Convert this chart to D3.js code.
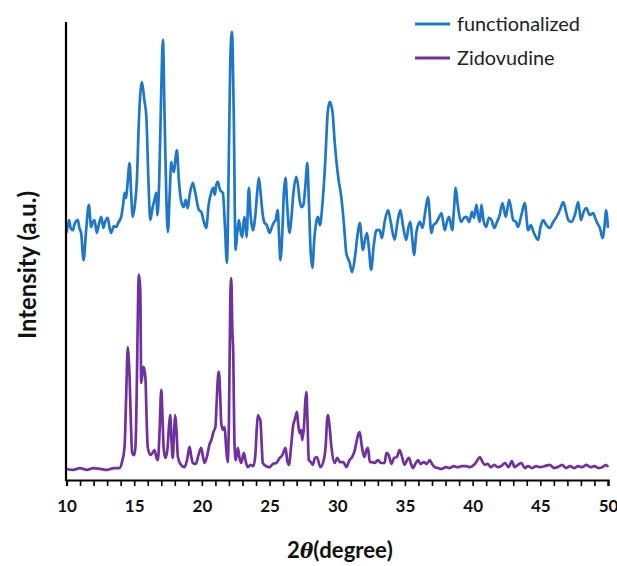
<!DOCTYPE html>
<html><head><meta charset="utf-8">
<script src="https://cdn.jsdelivr.net/npm/d3@7"></script>
<style>body{margin:0;background:#fff}svg{display:block}text{font-family:Lato,"Open Sans",sans-serif}</style>
</head><body><svg id="c" width="617" height="566"></svg>
<script>
// 2θ positions and intensities (a.u.) for the functionalized sample
const funcTheta = [10.0,10.1,10.2,10.3,10.47,10.6,10.84,10.95,11.08,11.26,11.45,11.65,11.82,11.95,12.07,12.24,12.4,12.57,12.72,12.85,13.05,13.18,13.3,13.5,13.67,13.85,14.04,14.18,14.29,14.4,14.5,14.66,14.78,14.9,15.05,15.2,15.35,15.57,15.75,15.9,16.05,16.19,16.35,16.5,16.63,16.72,16.85,17.0,17.12,17.25,17.38,17.49,17.62,17.74,17.86,17.95,18.05,18.15,18.3,18.45,18.65,18.8,18.95,19.1,19.33,19.5,19.78,19.95,20.15,20.32,20.5,20.7,20.86,20.95,21.06,21.18,21.35,21.55,21.7,21.85,22.0,22.1,22.22,22.35,22.49,22.62,22.73,22.85,22.98,23.08,23.16,23.3,23.47,23.6,23.77,23.95,24.1,24.21,24.35,24.5,24.63,24.8,25.0,25.15,25.3,25.45,25.6,25.7,25.8,25.95,26.05,26.18,26.3,26.48,26.6,26.75,26.97,27.1,27.22,27.35,27.5,27.65,27.79,27.9,28.03,28.16,28.3,28.45,28.58,28.72,28.9,29.1,29.3,29.44,29.55,29.66,29.8,29.93,30.1,30.3,30.5,30.67,30.9,31.1,31.3,31.5,31.66,31.9,32.05,32.2,32.35,32.5,32.7,32.9,33.13,33.3,33.5,33.75,33.95,34.24,34.45,34.66,34.85,35.1,35.25,35.4,35.55,35.67,35.85,36.1,36.3,36.5,36.7,36.96,37.1,37.3,37.5,37.7,37.94,38.1,38.26,38.5,38.62,38.75,38.9,39.17,39.35,39.54,39.75,39.95,40.1,40.28,40.4,40.53,40.65,40.8,41.0,41.2,41.4,41.6,41.8,42.0,42.2,42.45,42.7,43.0,43.2,43.35,43.6,43.85,44.1,44.3,44.5,44.84,45.0,45.2,45.45,45.7,45.95,46.2,46.45,46.7,46.9,47.07,47.3,47.55,47.8,48.0,48.2,48.4,48.65,48.9,49.05,49.2,49.4,49.6,49.75,49.85,50.0];
const funcIntensity = [53.7,55.4,56.5,54.8,54.3,55.7,56.5,54.8,53.7,47.8,54.3,59.8,55.0,56.1,56.5,53.7,55.7,57.2,54.8,56.1,57.0,54.8,53.7,55.2,55.0,56.1,57.2,59.8,62.4,61.3,64.1,68.9,62.0,57.2,59.8,65.2,78.3,86.5,82.6,78.9,65.2,56.5,59.1,60.9,62.4,57.6,65.2,84.8,95.7,78.3,60.9,53.9,62.0,69.1,67.4,67.0,70.0,71.7,65.2,60.9,59.3,60.9,59.1,62.0,64.6,62.6,58.7,58.3,56.1,54.8,59.8,62.6,63.5,62.0,64.1,64.8,63.0,62.4,55.4,47.2,71.7,91.3,97.4,80.4,50.0,53.9,56.5,54.3,52.8,56.1,57.2,52.8,63.5,57.6,54.3,57.6,63.0,65.7,62.0,57.6,55.9,55.4,53.7,54.8,55.9,56.5,58.7,53.3,47.8,54.3,62.0,65.7,59.8,53.7,56.5,62.0,65.9,64.1,60.9,59.3,59.8,64.1,68.9,60.9,50.0,46.1,52.2,56.1,57.2,55.4,59.8,68.5,80.0,82.2,81.5,79.8,73.9,69.6,65.2,61.5,55.4,49.3,47.4,45.2,48.3,53.3,55.9,50.0,52.2,53.7,50.0,45.7,51.1,54.3,54.3,52.6,56.1,58.7,56.1,52.2,56.1,58.7,55.4,52.2,54.8,56.1,52.2,48.9,53.9,56.1,54.8,58.3,61.5,53.7,55.4,55.9,57.0,58.0,54.3,56.1,57.2,54.3,58.7,63.5,59.8,56.1,57.0,57.2,56.1,58.3,57.0,59.8,57.6,56.1,59.8,56.5,55.0,57.0,56.5,54.8,56.1,57.6,60.2,57.2,60.9,56.5,56.1,55.0,57.6,60.2,54.3,55.4,53.9,52.2,54.8,56.5,55.4,54.8,56.1,57.2,58.7,60.4,58.3,56.5,56.1,57.6,60.4,56.5,58.3,59.1,57.6,58.0,57.0,55.9,54.8,52.6,55.4,58.7,54.8];

// 2θ positions and intensities (a.u.) for Zidovudine
const zidoTheta = [10.0,10.5,11.0,11.5,12.0,12.5,13.0,13.5,13.9,14.1,14.29,14.4,14.53,14.6,14.66,14.75,14.85,15.0,15.1,15.2,15.3,15.35,15.45,15.52,15.62,15.69,15.78,15.84,15.92,16.0,16.2,16.4,16.5,16.65,16.75,16.88,17.0,17.1,17.17,17.3,17.45,17.58,17.66,17.75,17.85,17.95,18.03,18.12,18.23,18.45,18.72,18.9,19.09,19.2,19.33,19.55,19.75,19.95,20.1,20.2,20.4,20.55,20.7,20.85,21.0,21.1,21.2,21.26,21.35,21.43,21.55,21.68,21.78,21.9,22.0,22.1,22.17,22.25,22.32,22.4,22.5,22.66,22.78,22.9,23.1,23.25,23.4,23.6,23.8,23.95,24.05,24.14,24.24,24.32,24.42,24.5,24.75,25.0,25.25,25.5,25.75,25.95,26.18,26.3,26.43,26.6,26.75,26.85,26.95,27.02,27.12,27.22,27.32,27.42,27.55,27.65,27.72,27.8,27.9,28.05,28.2,28.35,28.5,28.75,29.0,29.15,29.25,29.32,29.42,29.57,29.8,30.0,30.2,30.45,30.67,30.9,31.1,31.3,31.45,31.58,31.66,31.8,32.0,32.15,32.27,32.4,32.6,32.76,33.0,33.25,33.5,33.63,33.8,34.0,34.2,34.4,34.6,34.75,34.98,35.15,35.3,35.45,35.6,35.8,35.97,36.15,36.4,36.6,36.83,37.0,37.2,37.45,37.7,38.0,38.3,38.6,38.9,39.2,39.54,39.8,40.1,40.35,40.53,40.7,40.9,41.1,41.35,41.6,41.85,42.1,42.4,42.65,42.9,43.1,43.35,43.6,43.85,44.1,44.4,44.7,45.0,45.3,45.7,46.0,46.3,46.6,46.9,47.2,47.5,47.8,48.1,48.4,48.7,49.0,49.3,49.6,49.85,50.0];
const zidoIntensity = [2.4,2.2,2.6,2.2,2.6,2.4,2.2,2.6,2.6,3.9,7.2,17.4,28.9,26.1,22.4,13.0,5.9,5.4,7.6,21.7,41.3,44.6,41.3,21.1,23.5,24.6,23.5,21.7,13.0,7.2,5.4,6.1,6.5,4.8,4.3,10.9,19.6,13.0,7.2,4.8,6.5,12.0,14.1,8.7,4.8,10.9,14.1,10.9,5.0,3.3,2.8,4.3,7.2,5.4,3.7,3.5,5.4,7.0,4.8,3.7,5.4,7.6,8.7,10.4,11.5,17.4,22.8,23.5,18.5,12.4,10.9,11.5,7.6,3.9,13.0,39.1,43.9,32.6,27.2,8.7,4.3,7.0,4.8,3.7,5.9,3.9,2.8,3.3,3.0,5.4,10.9,14.1,13.5,13.0,7.6,3.7,3.0,2.8,3.5,3.7,4.8,5.4,7.0,4.3,3.3,7.6,12.0,13.0,14.1,14.8,12.0,10.2,10.9,8.7,12.0,17.4,19.1,13.0,4.3,3.9,3.3,4.8,5.0,2.8,4.3,7.6,13.0,14.1,12.0,7.2,3.7,4.8,3.9,3.9,2.8,4.3,5.0,6.5,8.7,10.2,10.4,7.6,5.0,6.5,7.0,3.9,3.9,3.7,4.3,3.7,3.7,5.9,5.4,3.5,4.8,5.0,6.5,5.4,3.3,4.3,4.8,3.5,2.6,3.7,4.3,3.5,3.9,3.5,4.3,3.5,2.8,2.6,2.4,2.8,2.6,3.0,2.8,3.0,3.0,2.8,3.3,4.3,5.0,4.1,3.3,3.5,2.8,3.3,2.8,3.0,3.7,2.8,4.1,2.8,3.3,3.7,2.6,3.0,2.6,3.0,2.8,3.0,3.3,2.6,2.8,3.3,2.6,3.0,2.6,3.0,2.8,3.3,2.8,3.0,2.6,2.8,3.3,2.8];

const xTicksMajor = [10,15,20,25,30,35,40,45,50];
const xTicksMinor = d3.range(10, 51, 1);
const seriesNames = ["functionalized","Zidovudine"];
const seriesColors = ["#1f77c8","#7030a0"];

const svg = d3.select("#c");
const x = d3.scaleLinear().domain([10,50]).range([66.5,608]);
const y = d3.scaleLinear().domain([0,100]).range([480,20]);

const line = d3.line().curve(d3.curveMonotoneX).x(d=>x(d[0])).y(d=>y(d[1]));
const funcData = funcTheta.map((t,i)=>[t,funcIntensity[i]]);
const zidoData = zidoTheta.map((t,i)=>[t,zidoIntensity[i]]);

svg.append("path").datum(zidoData).attr("d",line).attr("fill","none")
  .attr("stroke",seriesColors[1]).attr("stroke-width",2.7).attr("stroke-linejoin","round");
svg.append("path").datum(funcData).attr("d",line).attr("fill","none")
  .attr("stroke",seriesColors[0]).attr("stroke-width",2.7).attr("stroke-linejoin","round");

// x axis: minor ticks every degree, labels every 5
const gx = svg.append("g").attr("transform",`translate(0,${y(0)})`)
  .call(d3.axisBottom(x).tickValues(xTicksMinor).tickSize(6).tickFormat(""));
gx.select(".domain").attr("stroke","#000").attr("stroke-width",2.2);
gx.selectAll(".tick line").attr("stroke","#000").attr("stroke-width",1.6);
const gxl = svg.append("g").attr("transform",`translate(0,${y(0)})`)
  .call(d3.axisBottom(x).tickValues(xTicksMajor).tickSize(0).tickPadding(20).tickFormat(d3.format("d")));
gxl.select(".domain").remove();
gxl.selectAll("text").attr("font-family","Lato, sans-serif").attr("font-size",17).attr("font-weight","bold").attr("fill","#111");

// y axis (no ticks)
svg.append("line").attr("x1",x(10)-0.5).attr("x2",x(10)-0.5).attr("y1",22).attr("y2",y(0)+1)
  .attr("stroke","#000").attr("stroke-width",2.2);

function fit(sel, target){
  const fs = +sel.attr("font-size");
  const w = sel.node().getComputedTextLength();
  sel.attr("font-size", fs*target/w);
}

// axis titles
const xt = svg.append("text").attr("x",340).attr("y",558).attr("text-anchor","middle")
  .attr("font-size",20).attr("font-weight","bold").attr("fill","#111");
xt.append("tspan").text("2");
xt.append("tspan").attr("font-style","italic").attr("font-family","'DejaVu Serif', serif").attr("font-size","0.9em").text("θ");
xt.append("tspan").text("(degree)");
fit(xt, 106);

const yt = svg.append("text").attr("transform","translate(36,265) rotate(-90)").attr("text-anchor","middle")
  .attr("font-size",18).attr("font-weight","bold").attr("fill","#111").text("Intensity (a.u.)");
fit(yt, 148);

// legend
const lg = svg.append("g");
seriesNames.forEach((n,i)=>{
  const yy = 24 + i*34;
  lg.append("line").attr("x1",415).attr("x2",450).attr("y1",yy).attr("y2",yy)
    .attr("stroke",seriesColors[i]).attr("stroke-width",2.8);
  const t = lg.append("text").attr("x",457).attr("y",yy).attr("dy","0.35em").attr("font-size",18)
    .attr("fill","#222").text(n);
  if(i===0) fit(t, 123);
  else t.attr("font-size", lg.select("text").attr("font-size"));
});
</script></body></html>
